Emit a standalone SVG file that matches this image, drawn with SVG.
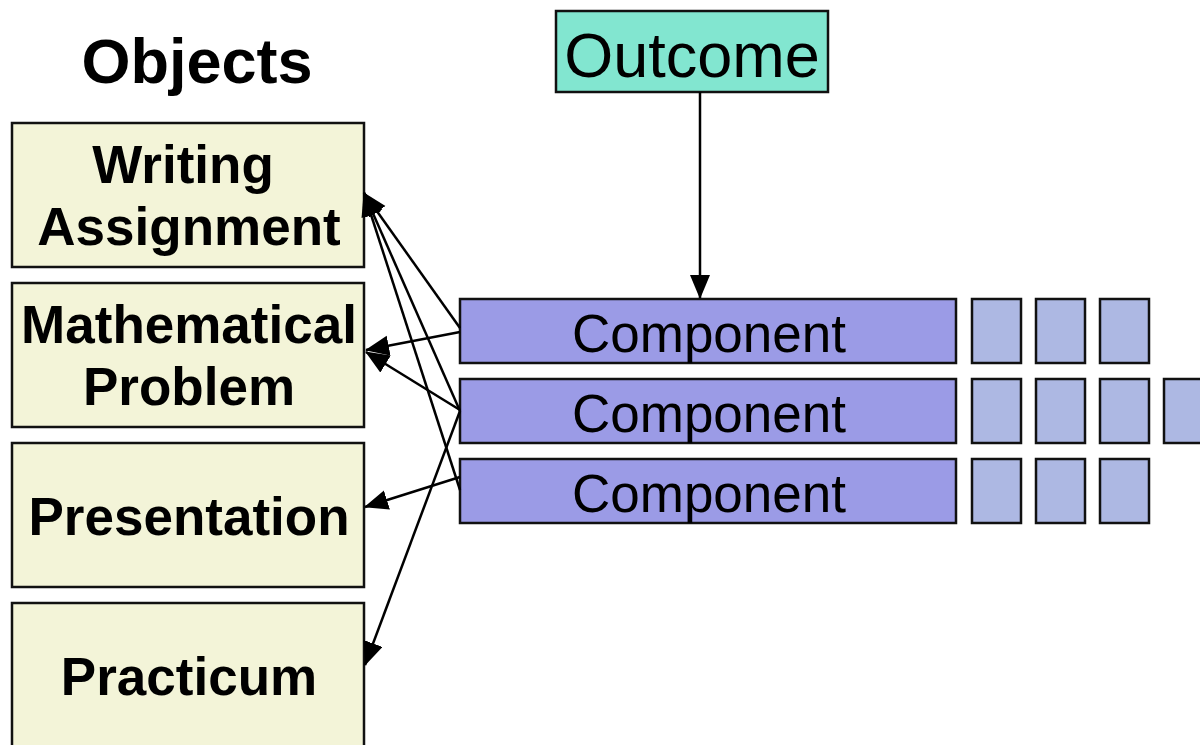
<svg xmlns="http://www.w3.org/2000/svg" width="1200" height="745" viewBox="0 0 1200 745">
<style>
.obj{fill:#F3F4D8;stroke:#111;stroke-width:2.5}
.comp{fill:#9B9BE6;stroke:#111;stroke-width:2.5}
.sq{fill:#ADB8E3;stroke:#111;stroke-width:2.5}
.out{fill:#82E6D0;stroke:#111;stroke-width:2.5}
.bt{font-family:"Liberation Sans",Arial,sans-serif;font-weight:bold;font-size:53px;text-anchor:middle;fill:#000}
.rt{font-family:"Liberation Sans",Arial,sans-serif;font-size:53px;text-anchor:middle;fill:#000}
.ln{stroke:#000;stroke-width:2.5;fill:none;marker-end:url(#ah)}
</style>
<defs>
<marker id="ah" markerUnits="userSpaceOnUse" markerWidth="26" markerHeight="22" refX="23" refY="10" orient="auto">
<path d="M0,0 L24,10 L0,20 Z" fill="#000"/>
</marker>
</defs>
<rect width="1200" height="745" fill="#fff"/>
<text class="bt" x="197" y="83" style="font-size:63px">Objects</text>
<g id="writing"><rect class="obj" x="12" y="123" width="352" height="144"/><text class="bt" x="183" y="183">Writing</text><text class="bt" x="189" y="245">Assignment</text></g>
<g id="math"><rect class="obj" x="12" y="283" width="352" height="144"/><text class="bt" x="189" y="343">Mathematical</text><text class="bt" x="189" y="405">Problem</text></g>
<g id="presentation"><rect class="obj" x="12" y="443" width="352" height="144"/><text class="bt" x="189" y="535">Presentation</text></g>
<g id="practicum"><rect class="obj" x="12" y="603" width="352" height="160"/><text class="bt" x="189" y="695">Practicum</text></g>
<g id="outcome"><rect class="out" x="556" y="11" width="272" height="81"/><text class="rt" x="692" y="77" style="font-size:63px">Outcome</text></g>
<g id="comp1"><rect class="comp" x="460" y="299" width="496" height="64"/><text class="rt" x="709" y="352">Component</text>
<rect class="sq" x="972" y="299" width="49" height="64"/><rect class="sq" x="1036" y="299" width="49" height="64"/><rect class="sq" x="1100" y="299" width="49" height="64"/></g>
<g id="comp2"><rect class="comp" x="460" y="379" width="496" height="64"/><text class="rt" x="709" y="432">Component</text>
<rect class="sq" x="972" y="379" width="49" height="64"/><rect class="sq" x="1036" y="379" width="49" height="64"/><rect class="sq" x="1100" y="379" width="49" height="64"/><rect class="sq" x="1164" y="379" width="49" height="64"/></g>
<g id="comp3"><rect class="comp" x="460" y="459" width="496" height="64"/><text class="rt" x="709" y="512">Component</text>
<rect class="sq" x="972" y="459" width="49" height="64"/><rect class="sq" x="1036" y="459" width="49" height="64"/><rect class="sq" x="1100" y="459" width="49" height="64"/></g>
<g id="connectors">
<line class="ln" x1="700" y1="92" x2="700" y2="298"/>
<line class="ln" x1="460" y1="328" x2="364" y2="193"/>
<line class="ln" x1="460" y1="411" x2="364" y2="193"/>
<line class="ln" x1="460" y1="490" x2="364" y2="193"/>
<line class="ln" x1="460" y1="332" x2="366" y2="350"/>
<line class="ln" x1="460" y1="410" x2="366" y2="352"/>
<line class="ln" x1="460" y1="411" x2="365" y2="665"/>
<line class="ln" x1="460" y1="477" x2="365" y2="507"/>
</g>
</svg>
